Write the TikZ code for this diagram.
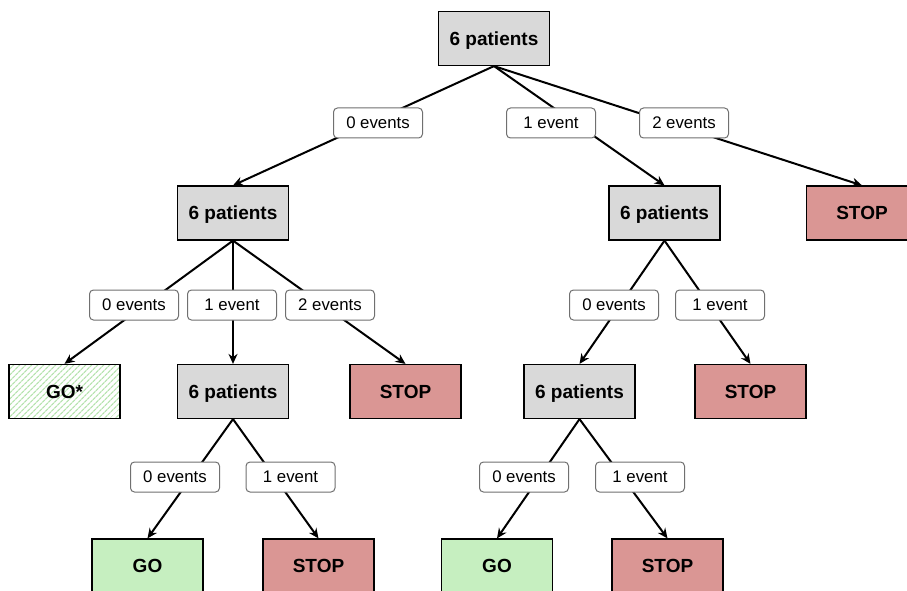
\documentclass[tikz,border=0pt]{standalone}
\usepackage{fontspec}
\setmainfont{Liberation Sans}
\usetikzlibrary{arrows.meta,backgrounds,patterns.meta}
\definecolor{boxgray}{HTML}{D9D9D9}
\definecolor{stopred}{HTML}{DA9694}
\definecolor{gogreen}{HTML}{C6EFC0}
\definecolor{hatchgreen}{HTML}{B5E3AE}
\definecolor{lblborder}{HTML}{707070}
\tikzset{
  box/.style={draw=black, line width=1.2pt, minimum width=111pt, minimum height=54pt, inner sep=0pt,
    text depth=0pt, font=\fontsize{19}{22}\selectfont\bfseries},
  pat/.style={box, fill=boxgray},
  stopbox/.style={box, fill=stopred},
  gobox/.style={box, fill=gogreen},
  gostar/.style={box, pattern={Lines[angle=45,distance=4pt,line width=1.3pt]}, pattern color=hatchgreen},
  lbl/.style={draw=lblborder, line width=1pt, fill=white, rounded corners=4pt, minimum width=89pt,
    minimum height=30pt, inner sep=0pt, font=\fontsize{16.8}{19}\selectfont},
  edge/.style={line width=2pt, black},
  arr/.style={edge, -{Stealth[length=10pt,width=9pt]}}
}
\begin{document}
\begin{tikzpicture}[x=1pt,y=-1pt]
\useasboundingbox (0,0) rectangle (907,591);
\clip (0,0) rectangle (907,591);
% nodes
\node[pat] (root) at (494,38.5) {6 patients};
\node[pat] (L) at (233,213) {6 patients};
\node[pat] (R) at (664.5,213) {6 patients};
\node[stopbox] (S1) at (862,213) {STOP};
\node[lbl] (a0) at (378,123) {0 events};
\node[lbl] (a1) at (551,123) {1 event};
\node[lbl] (a2) at (684,123) {2 events};
% left level 2
\node[lbl] (b0) at (134,305) {0 events};
\node[lbl] (b1) at (232,305) {1 event};
\node[lbl] (b2) at (330,305) {2 events};
\node[gostar] (G1) at (64.5,391.5) {GO*};
\node[pat] (LM) at (233,391.5) {6 patients};
\node[stopbox] (S2) at (405.5,391.5) {STOP};
% right level 2
\node[lbl] (c0) at (614,305) {0 events};
\node[lbl] (c1) at (720,305) {1 event};
\node[pat] (RM) at (579.5,391.5) {6 patients};
\node[stopbox] (S3) at (750.5,391.5) {STOP};
% level 3 left
\node[lbl] (d0) at (175,477) {0 events};
\node[lbl] (d1) at (290.5,477) {1 event};
\node[gobox] (G2) at (147.5,566) {GO};
\node[stopbox] (S4) at (318.5,566) {STOP};
% level 3 right
\node[lbl] (e0) at (524,477) {0 events};
\node[lbl] (e1) at (640,477) {1 event};
\node[gobox] (G3) at (497,566) {GO};
\node[stopbox] (S5) at (667.5,566) {STOP};
\begin{scope}[on background layer]
\draw[arr] (root.south) -- (L.north);
\draw[arr] (root.south) -- (R.north);
\draw[arr] (root.south) -- (S1.north);
\draw[arr] (L.south) -- (G1.north);
\draw[arr] (L.south) -- (LM.north);
\draw[arr] (L.south) -- (S2.north);
\draw[arr] (R.south) -- (RM.north);
\draw[arr] (R.south) -- (S3.north);
\draw[arr] (LM.south) -- (G2.north);
\draw[arr] (LM.south) -- (S4.north);
\draw[arr] (RM.south) -- (G3.north);
\draw[arr] (RM.south) -- (S5.north);
\end{scope}
\end{tikzpicture}
\end{document}
